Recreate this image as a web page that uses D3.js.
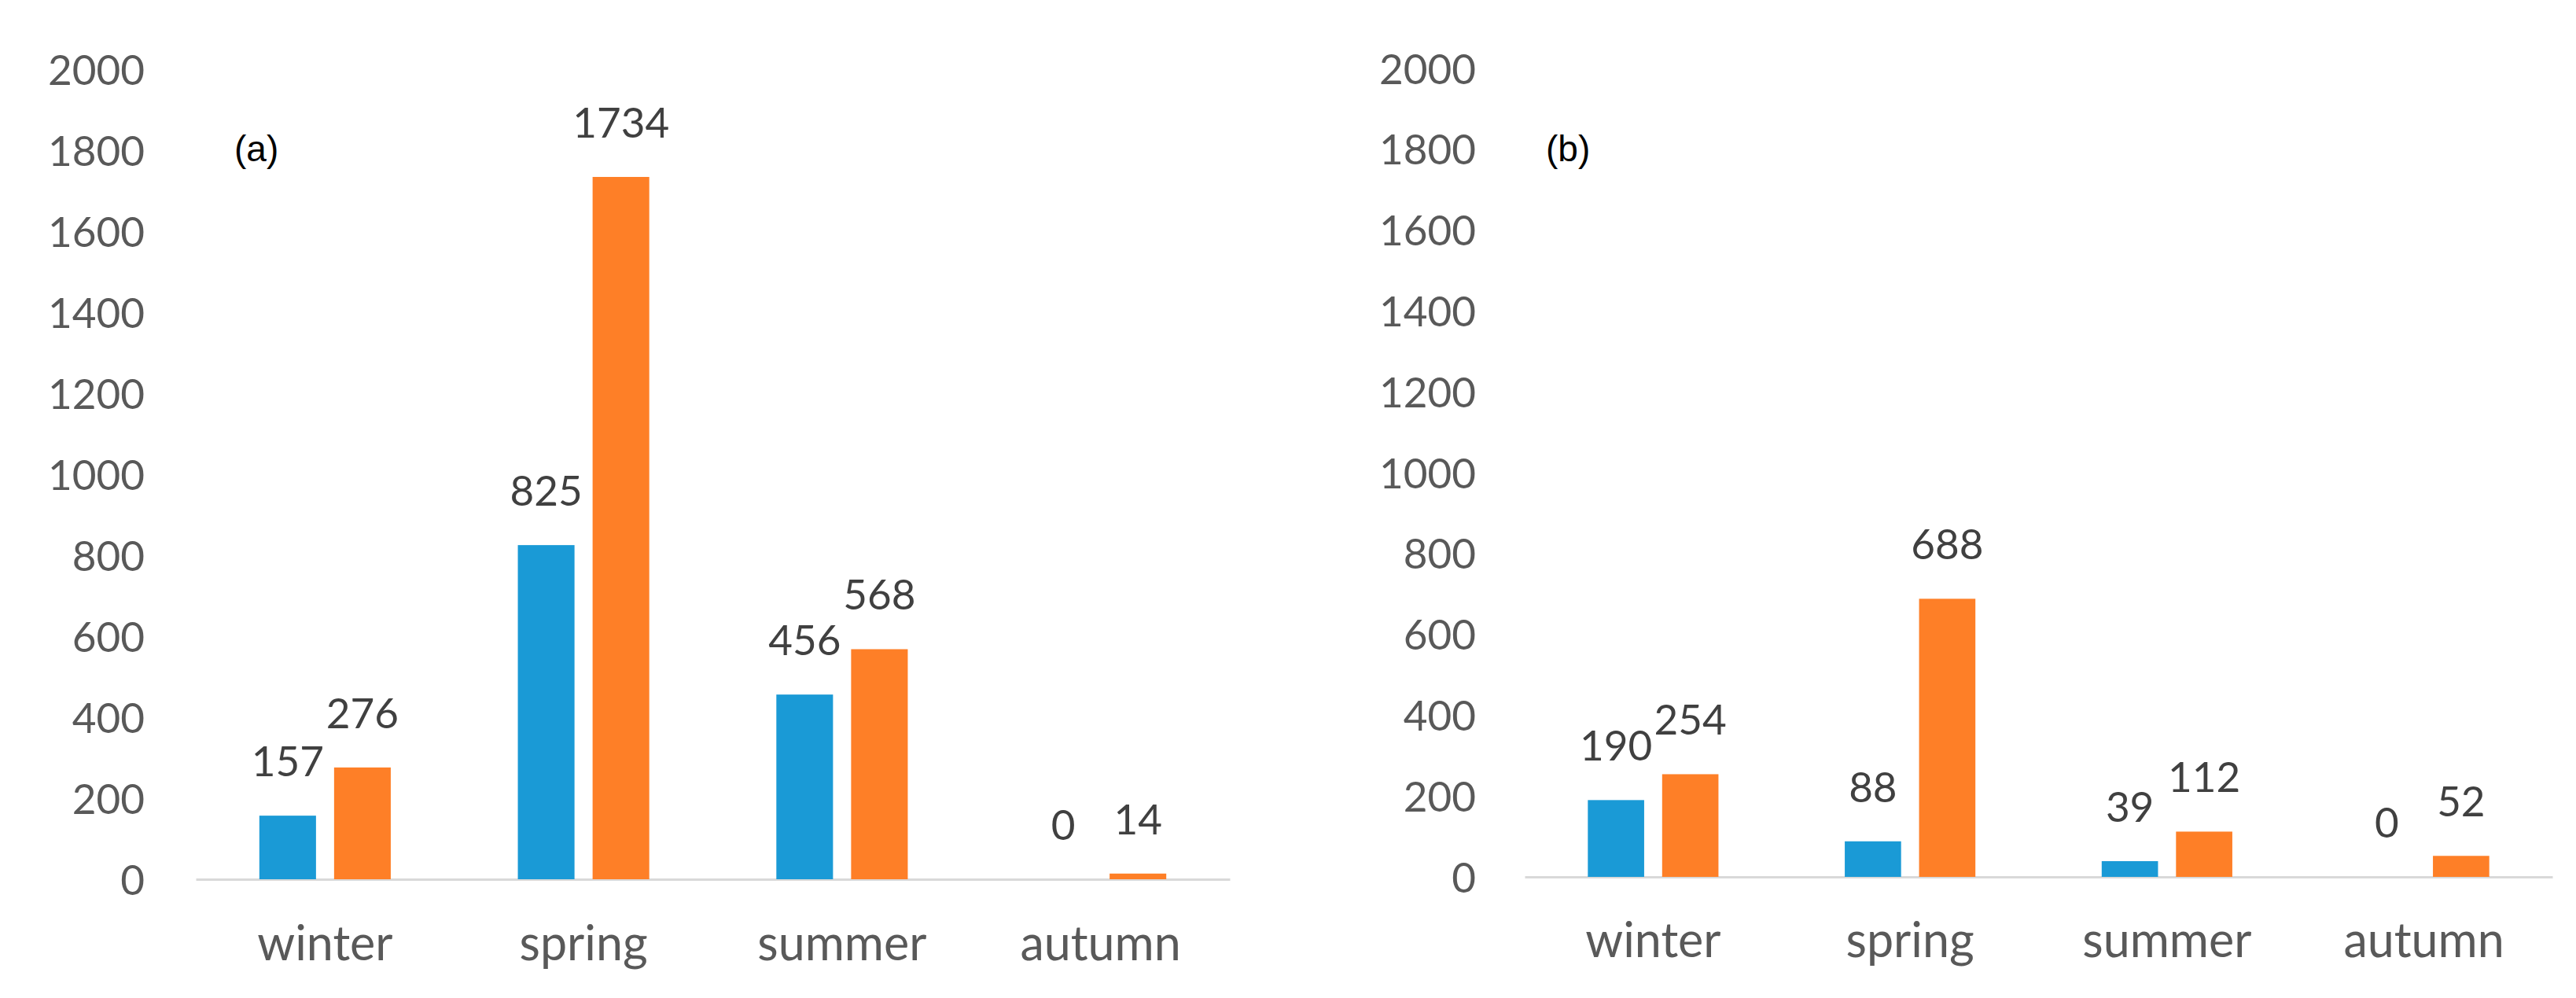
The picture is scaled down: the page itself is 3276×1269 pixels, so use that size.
<!DOCTYPE html>
<html><head><meta charset="utf-8">
<script src="https://cdn.jsdelivr.net/npm/d3@7"></script>
<style>html,body{margin:0;padding:0;background:#fff;}</style>
</head><body>
<script>
const categories = ["winter", "spring", "summer", "autumn"];
const seriesNames = ["blue", "orange"];
const valuesA_blue = [157, 825, 456, 0];
const valuesA_orange = [276, 1734, 568, 14];
const valuesB_blue = [190, 88, 39, 0];
const valuesB_orange = [254, 688, 112, 52];
const yTicks = [0, 200, 400, 600, 800, 1000, 1200, 1400, 1600, 1800, 2000];
const panelLabels = ["(a)", "(b)"];
const colors = ["#1a9ad6", "#fe7f27"];

const W = 3276, H = 1269;
const svg = d3.select("body").append("svg").attr("width", W).attr("height", H)
  .style("background", "#fff");

const panels = [
  {label: panelLabels[0], blue: valuesA_blue, orange: valuesA_orange,
   x0: 249, x1: 1564, y0: 1118, yTop: 88, tickX: 184, labX: 298, catBase: 1221},
  {label: panelLabels[1], blue: valuesB_blue, orange: valuesB_orange,
   x0: 1939, x1: 3246, y0: 1115, yTop: 87, tickX: 1877, labX: 1966, catBase: 1217}
];

panels.forEach(p => {
  const g = svg.append("g");
  const y = d3.scaleLinear().domain([0, 2000]).range([p.y0, p.yTop]);
  const xc = d3.scaleBand().domain(categories).range([p.x0, p.x1]).padding(0);
  const xs = d3.scaleBand().domain(seriesNames).range([0, xc.bandwidth()])
    .paddingInner(0.242).paddingOuter(0.85);

  // y tick labels (no axis line)
  const yAxis = d3.axisLeft(y).tickValues(yTicks).tickFormat(d3.format("d"))
    .tickSize(0).tickPadding(0);
  const ya = g.append("g").attr("transform", `translate(${p.tickX},0)`).call(yAxis);
  ya.select(".domain").remove();
  ya.selectAll("text").attr("font-family", "Lato, sans-serif")
    .attr("font-size", 53).attr("fill", "#595959").attr("dy", "0.36em");

  // baseline axis
  const xAxis = d3.axisBottom(xc).tickSize(0).tickPadding(0);
  const xa = g.append("g").attr("transform", `translate(0,${p.y0})`).call(xAxis);
  xa.select(".domain").attr("stroke", "#d9d9d9").attr("stroke-width", 3);
  xa.selectAll("text").attr("font-family", "Lato, sans-serif")
    .attr("font-size", 61).attr("fill", "#595959")
    .attr("y", p.catBase - p.y0).attr("dy", 0);

  const rows = categories.map((c, i) => ({cat: c, vals: [
    {s: seriesNames[0], v: p.blue[i]}, {s: seriesNames[1], v: p.orange[i]}]}));

  const grp = g.selectAll(".cat").data(rows).enter().append("g")
    .attr("transform", d => `translate(${xc(d.cat)},0)`);
  grp.selectAll("rect").data(d => d.vals).enter().append("rect")
    .attr("x", d => xs(d.s)).attr("width", xs.bandwidth())
    .attr("y", d => y(d.v)).attr("height", d => Math.max(0, p.y0 - y(d.v)))
    .attr("fill", (d, i) => colors[i]);
  grp.selectAll("text.val").data(d => d.vals).enter().append("text")
    .attr("class", "val")
    .attr("x", d => xs(d.s) + xs.bandwidth() / 2)
    .attr("y", d => y(d.v) - 50)
    .attr("text-anchor", "middle")
    .attr("font-family", "Lato, sans-serif").attr("font-size", 53)
    .attr("fill", "#404040").text(d => d.v);

  g.append("text").attr("x", p.labX).attr("y", 205)
    .attr("font-family", "'Liberation Sans', Arial, sans-serif")
    .attr("font-size", 46).attr("fill", "#000").text(p.label);
});
</script>
</body></html>
